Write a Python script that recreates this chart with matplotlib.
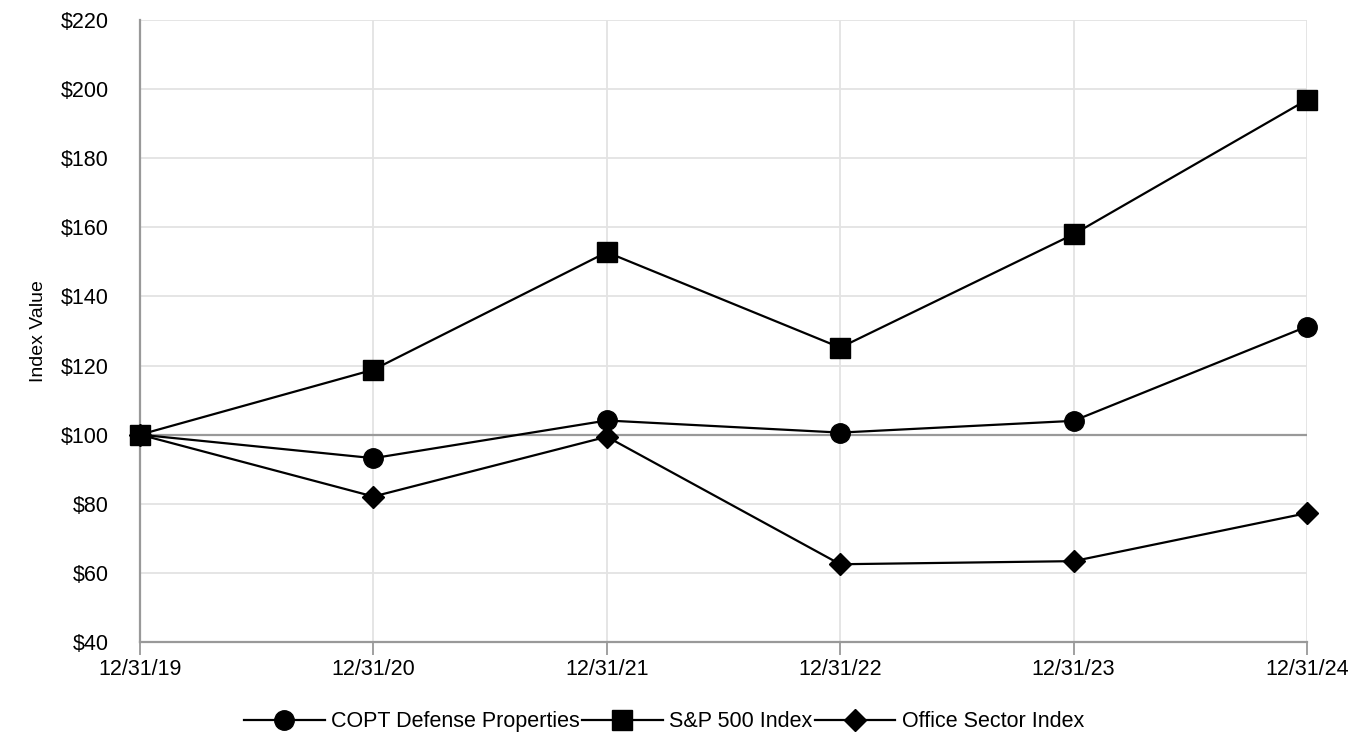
import matplotlib.pyplot as plt

dates = ['12/31/19', '12/31/20', '12/31/21', '12/31/22', '12/31/23', '12/31/24']
copt = [100, 93.2, 104.1, 100.6, 104.0, 131.3]
sp500 = [100, 118.8, 152.8, 125.2, 158.0, 196.9]
office = [100, 82.1, 99.4, 62.5, 63.4, 77.3]
y_ticks = list(range(40, 221, 20))

plt.rcParams['font.family'] = ['Liberation Sans', 'DejaVu Sans']

fig = plt.figure(figsize=(13.64, 7.48), dpi=100)
ax = fig.add_axes([140 / 1364, 1 - 642 / 748, (1307 - 140) / 1364, (642 - 20) / 748])

x = list(range(len(dates)))
ax.plot(x, copt, color='black', lw=1.6, marker='o', ms=14, label='COPT Defense Properties', zorder=3, clip_on=False)
ax.plot(x, sp500, color='black', lw=1.6, marker='s', ms=14, label='S&P 500 Index', zorder=4, clip_on=False)
ax.plot(x, office, color='black', lw=1.6, marker='D', ms=11, label='Office Sector Index', zorder=3, clip_on=False)

ax.axhline(100, color='#999999', lw=1.6, zorder=2)

ax.set_xlim(0, len(dates) - 1)
ax.set_ylim(40, 220)
ax.set_xticks(x)
ax.set_xticklabels(dates)
ax.set_yticks(y_ticks)
ax.set_yticklabels(['$%d' % v for v in y_ticks])
ax.grid(True, color='#e3e3e3', lw=1.3, zorder=0)
ax.set_axisbelow(True)

for s in ['top', 'right']:
    ax.spines[s].set_visible(False)
for s in ['left', 'bottom']:
    ax.spines[s].set_color('#999999')
    ax.spines[s].set_linewidth(1.6)

ax.tick_params(axis='x', length=9, width=1.3, color='#999999', labelsize=15.5, pad=3)
ax.tick_params(axis='y', length=0, labelsize=15.5, pad=22.5)
ax.set_ylabel('Index Value', fontsize=14, labelpad=10)

ax.legend(loc='upper center', bbox_to_anchor=(0.449, -0.08), ncol=3, frameon=False,
          fontsize=15.5, handlelength=3.75, columnspacing=0.1, handletextpad=0.3)

fig.savefig('out.png', dpi=100)
